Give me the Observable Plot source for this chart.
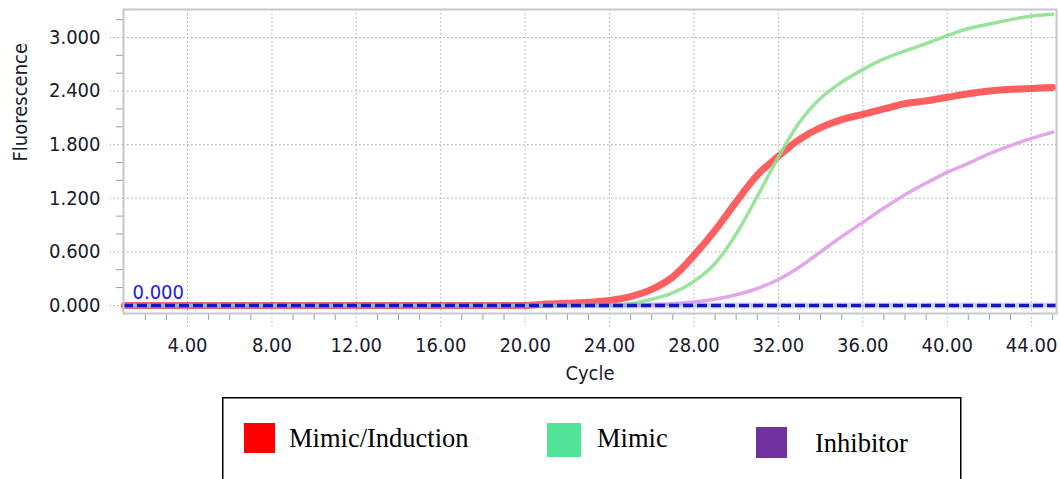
<!DOCTYPE html>
<html>
<head>
<meta charset="utf-8">
<script src="https://cdn.jsdelivr.net/npm/d3@7"></script>
<script src="https://cdn.jsdelivr.net/npm/@observablehq/plot@0.6"></script>
<style>
  html, body { margin: 0; padding: 0; background: #fff; }
  #wrap { position: relative; width: 1060px; height: 479px; overflow: hidden; background: #fff; }
  #chart { position: absolute; left: 0; top: 0; }
  #legend { position: absolute; left: 0; top: 397px; }
</style>
</head>
<body>
<div id="wrap"><div id="chart"></div><div id="legend"></div></div>
<script>
// ---- data ----
const cycles = d3.range(1, 46);
const mimicInduction = [0,0,0,0,0,0,0,0,0,0,0,0,0,0,0,0,0,0,0,0,
  0.015,0.025,0.035,0.055,0.10,0.18,0.32,0.56,0.84,1.16,1.46,1.67,1.86,1.99,2.08,2.14,2.20,2.26,2.29,2.33,2.37,2.40,2.42,2.43,2.44];
const mimic = [0,0,0,0,0,0,0,0,0,0,0,0,0,0,0,0,0,0,0,0,0,0,0,0,
  0.02,0.07,0.14,0.27,0.47,0.80,1.22,1.66,2.05,2.32,2.50,2.64,2.76,2.85,2.93,3.02,3.10,3.15,3.20,3.24,3.26];
const inhibitor = [0,0,0,0,0,0,0,0,0,0,0,0,0,0,0,0,0,0,0,0,0,0,0,0,0,
  0.01,0.02,0.04,0.07,0.12,0.19,0.29,0.43,0.60,0.77,0.93,1.09,1.24,1.37,1.49,1.59,1.70,1.79,1.87,1.94];
const threshold = 0.000;
const xMajorTicks = [4, 8, 12, 16, 20, 24, 28, 32, 36, 40, 44];
const xMinorTicks = [2,3,5,6,7,9,10,11,13,14,15,17,18,19,21,22,23,25,26,27,29,30,31,33,34,35,37,38,39,41,42,43,45];
const yMajorTicks = [0, 0.6, 1.2, 1.8, 2.4, 3.0];
const yMinorTicks = [0.2, 0.4, 0.8, 1.0, 1.4, 1.6, 2.0, 2.2, 2.6, 2.8, 3.2];
const seriesNames = ["Mimic/Induction", "Mimic", "Inhibitor"];
const legendColors = ["#ff0000", "#52e598", "#7030a0"];
const xLabel = "Cycle";
const yLabel = "Fluorescence";

// ---- build rows ----
const toRows = (vals) => cycles.map((c, i) => ({cycle: c, value: vals[i]}));
const redRows = toRows(mimicInduction);
const greenRows = toRows(mimic);
const pinkRows = toRows(inhibitor);

const gridStyle = {stroke: "#a9a9a9", strokeOpacity: 1, strokeWidth: 1, strokeDasharray: "1.5,2.5"};
const textColor = "#1a1a2e";

const plot = Plot.plot({
  width: 1060,
  height: 397,
  marginLeft: 123,
  marginRight: 4,
  marginTop: 9,
  marginBottom: 84,
  style: {fontFamily: "'DejaVu Sans Condensed','DejaVu Sans',sans-serif", fontSize: "20px", color: textColor, background: "#fff", overflow: "visible"},
  x: {domain: [0.967, 45.18]},
  y: {domain: [-0.09, 3.313]},
  marks: [
    Plot.gridX(xMajorTicks, gridStyle),
    Plot.gridY(yMajorTicks, gridStyle),
    Plot.axisX(xMajorTicks, {tickSize: 13, tickPadding: 11, tickFormat: d3.format(".2f"), label: null, ...gridStyle}),
    Plot.axisX(xMinorTicks, {tickSize: 7, tickFormat: () => "", label: null, stroke: "#9a9ea6"}),
    Plot.axisY(yMajorTicks, {tickSize: 13, tickPadding: 10, tickFormat: d3.format(".3f"), label: null, ...gridStyle}),
    Plot.axisY(yMinorTicks, {tickSize: 7, tickFormat: () => "", label: null, stroke: "#9a9ea6"}),
    Plot.lineY(pinkRows, {x: "cycle", y: "value", stroke: "#e2a6ea", strokeWidth: 3.5, curve: "catmull-rom"}),
    Plot.lineY(redRows, {x: "cycle", y: "value", stroke: "#ff3c3c", strokeOpacity: 0.82, strokeWidth: 7, curve: "catmull-rom"}),
    Plot.lineY(greenRows, {x: "cycle", y: "value", stroke: "#8fe08f", strokeOpacity: 0.9, strokeWidth: 3.5, curve: "catmull-rom"}),
    Plot.ruleY([threshold], {stroke: "#8a8af0", strokeWidth: 6, strokeOpacity: 0.35}),
    Plot.ruleY([threshold], {stroke: "#1414c8", strokeWidth: 3.5, strokeDasharray: "10,4"}),
    Plot.text([threshold], {y: d => d, text: d => d3.format(".3f")(d), frameAnchor: "left", dx: 9, dy: -6, textAnchor: "start", lineAnchor: "bottom", fill: "#1c1cdc", fontSize: 20}),
    Plot.frame({stroke: "#c4c8ce", strokeWidth: 2}),
    Plot.text([xLabel], {text: d => d, frameAnchor: "bottom", dy: 60, lineAnchor: "middle", fill: textColor, fontSize: 20}),
    Plot.text([yLabel], {text: d => d, frameAnchor: "left", dx: -103, rotate: -90, lineAnchor: "middle", fill: textColor, fontSize: 20})
  ]
});
document.getElementById("chart").appendChild(plot);

// ---- legend (below the chart) ----
const legendLayout = [
  {sx: 244, sy: 26, sw: 31, sh: 30, tx: 289, ty: 50},
  {sx: 547, sy: 26, sw: 34, sh: 34, tx: 597, ty: 50},
  {sx: 756, sy: 30, sw: 31, sh: 31, tx: 815, ty: 55}
];
const lsvg = d3.select("#legend").append("svg").attr("width", 1060).attr("height", 82);
lsvg.append("rect").attr("x", 222.75).attr("y", 0.75).attr("width", 738).attr("height", 120)
  .attr("fill", "#fff").attr("stroke", "#000").attr("stroke-width", 1.5);
seriesNames.forEach((name, i) => {
  const L = legendLayout[i];
  lsvg.append("rect").attr("x", L.sx).attr("y", L.sy).attr("width", L.sw).attr("height", L.sh).attr("fill", legendColors[i]);
  lsvg.append("text").attr("x", L.tx).attr("y", L.ty).text(name)
    .attr("font-family", "'Liberation Serif','Times New Roman',serif").attr("font-size", 26.5).attr("fill", "#000");
});
</script>
</body>
</html>
